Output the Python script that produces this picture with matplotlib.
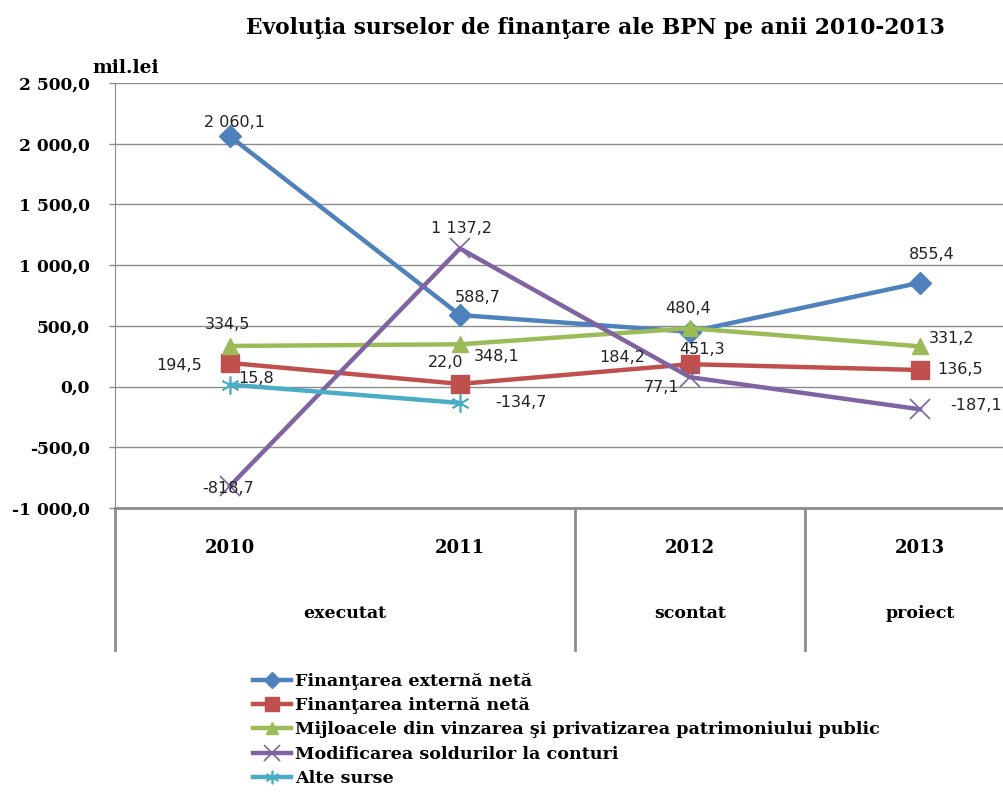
import numpy as np
import matplotlib.pyplot as plt

# values (mil. lei)
years = ["2010", "2011", "2012", "2013"]
stages = ["executat", "scontat", "proiect"]
stage_centers = [0.5, 2.0, 3.0]
stage_breaks = [-0.5, 1.5, 2.5, 3.5]

ext_net = [2060.1, 588.7, 451.3, 855.4]
int_net = [194.5, 22.0, 184.2, 136.5]
privat = [334.5, 348.1, 480.4, 331.2]
solduri = [-818.7, 1137.2, 77.1, -187.1]
alte = [15.8, -134.7, np.nan, np.nan]

names = ["Finanţarea externă netă",
         "Finanţarea internă netă",
         "Mijloacele din vinzarea şi privatizarea patrimoniului public",
         "Modificarea soldurilor la conturi",
         "Alte surse"]

####### styling #######
COLORS = ["#4F81BD", "#C0504D", "#9BBB59", "#8064A2", "#4BACC6"]
MARKERS = ["D", "s", "^", "x", (6, 2, 0)]
MSIZES = [11, 13, 12, 15, 13]
MEW = [1, 1, 1, 1.2, 1.2]
# label offsets in pixels (dx, dy), dy positive = up
LABEL_OFF = [
    [(5, 14), (18, 18), (12, -18), (12, 28)],
    [(-51, -3), (-14, 21), (-68, 7), (40, 0)],
    [(-2, 21), (37, -12), (-2, 20), (32, 8)],
    [(-2, -3), (2, 20), (-28, -10), (56, 4)],
    [(26, 6), (61, 0), None, None],
]
SERIF = "DejaVu Serif"


def fmt(v):
    return f"{v:,.1f}".replace(",", " ").replace(".", ",")


fig = plt.figure(figsize=(10.04, 7.93), dpi=100)
W, H = 1004, 793
left, right, top, bottom = 115, 1035, 83, 508
ax = fig.add_axes([left / W, 1 - bottom / H, (right - left) / W, (bottom - top) / H])

grid_c = "#8C8C8C"
ax.set_xlim(-0.5, 3.5)
ax.set_ylim(-1000, 2500)
ax.set_yticks(np.arange(-1000, 2501, 500))
ax.set_yticklabels([fmt(v) for v in np.arange(-1000, 2501, 500)],
                   fontfamily=SERIF, fontweight="bold", fontsize=12.3)
ax.tick_params(axis="y", length=4, width=1, color=grid_c, pad=14)
ax.set_xticks([])
ax.yaxis.grid(True, color=grid_c, lw=1)
ax.set_axisbelow(True)
for s in ["top", "right"]:
    ax.spines[s].set_visible(False)
ax.spines["left"].set_color(grid_c)
ax.spines["bottom"].set_color(grid_c)
ax.spines["bottom"].set_linewidth(2)

x = np.arange(len(years))
series = [ext_net, int_net, privat, solduri, alte]
for k, vals in enumerate(series):
    ax.plot(x, vals, color=COLORS[k], lw=3.2, marker=MARKERS[k], ms=MSIZES[k],
            mew=MEW[k], mec=COLORS[k], label=names[k], clip_on=False, zorder=3)
    for i, v in enumerate(vals):
        if np.isnan(v):
            continue
        dx, dy = LABEL_OFF[k][i]
        ax.annotate(fmt(v), (i, v), xytext=(dx * 0.72, dy * 0.72),
                    textcoords="offset points", ha="center", va="center",
                    fontsize=11.5, color="#222222", zorder=4)

# category axis below the plot
trans = ax.get_xaxis_transform()
depth = (650 - bottom) / (bottom - top)
for b in stage_breaks:
    ax.plot([b, b], [0, -depth], transform=trans, color=grid_c, lw=2, clip_on=False)
for i, y in enumerate(years):
    ax.text(i, -40 / (bottom - top), y, transform=trans, ha="center", va="center",
            fontfamily=SERIF, fontweight="bold", fontsize=13)
for c, s in zip(stage_centers, stages):
    ax.text(c, -105 / (bottom - top), s, transform=trans, ha="center", va="center",
            fontfamily=SERIF, fontweight="bold", fontsize=12.5)

fig.text(595 / W, 1 - 28 / H, "Evoluţia surselor de finanţare ale BPN pe anii 2010-2013",
         ha="center", va="center", fontfamily=SERIF, fontweight="bold", fontsize=15.7)
fig.text(92 / W, 1 - 68 / H, "mil.lei", ha="left", va="center",
         fontfamily=SERIF, fontweight="bold", fontsize=13.5)

fig.legend(loc="upper left", bbox_to_anchor=(244 / W, 1 - 664 / H), frameon=False,
           prop={"family": SERIF, "weight": "bold", "size": 12.6},
           handlelength=2.2, handletextpad=0.2, labelspacing=0.42, borderpad=0,
           markerscale=0.75)

plt.savefig("out.png", dpi=100)
